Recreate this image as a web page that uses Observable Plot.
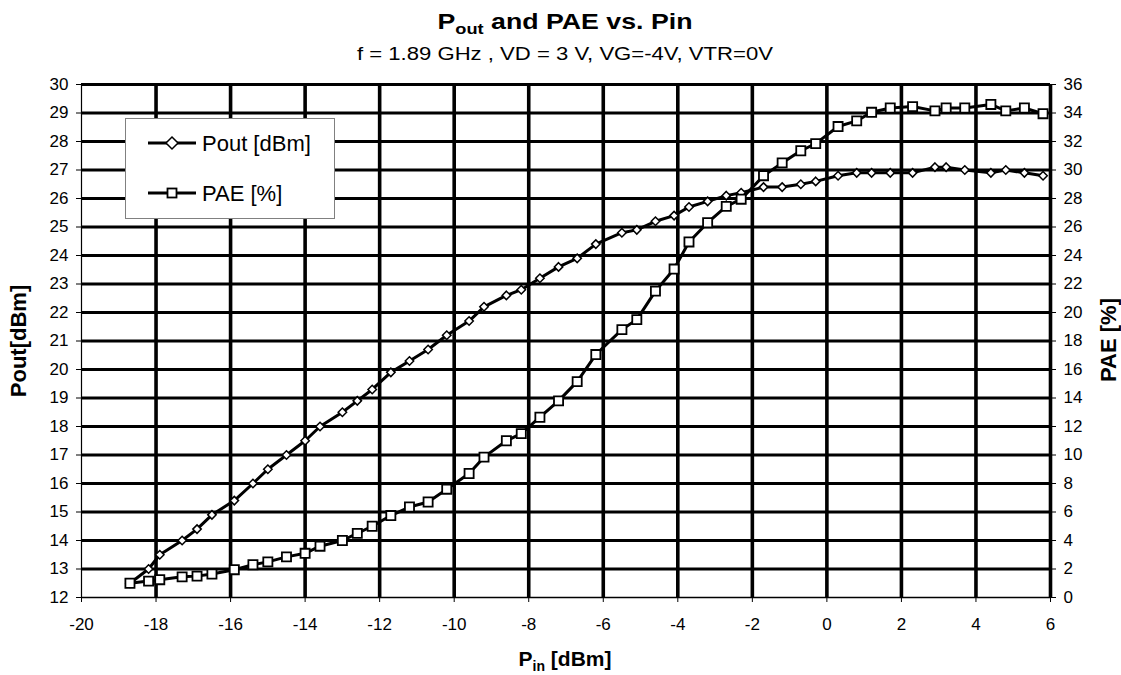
<!DOCTYPE html>
<html><head><meta charset="utf-8">
<script src="https://cdn.jsdelivr.net/npm/d3@7"></script>
<script src="https://cdn.jsdelivr.net/npm/@observablehq/plot@0.6"></script>
<style>
body{margin:0;background:#fff;font-family:"Liberation Sans",Arial,sans-serif;}
#wrap{position:relative;width:1121px;height:675px;overflow:hidden;background:#fff;}
#chart{position:absolute;left:0;top:70px;}
#overlay{position:absolute;left:0;top:0;pointer-events:none;}
</style></head><body>
<div id="wrap">
<div id="chart"></div>
<svg id="overlay" width="1121" height="675" font-family="Liberation Sans, Arial, sans-serif">
  <text x="565" y="29" text-anchor="middle" font-size="22" font-weight="bold" textLength="255" lengthAdjust="spacingAndGlyphs">P<tspan font-size="15" dy="5">out</tspan><tspan dy="-5"> and PAE vs. Pin</tspan></text>
  <text x="565" y="60" text-anchor="middle" font-size="18" textLength="416" lengthAdjust="spacingAndGlyphs">f = 1.89 GHz , VD = 3 V, VG=-4V, VTR=0V</text>
  <text transform="translate(26,341) rotate(-90)" text-anchor="middle" font-size="22" font-weight="bold">Pout[dBm]</text>
  <text transform="translate(1116,340) rotate(-90)" text-anchor="middle" font-size="22" font-weight="bold">PAE [%]</text>
  <text x="565" y="666" text-anchor="middle" font-size="21" font-weight="bold">P<tspan font-size="14" dy="5">in</tspan><tspan dy="-5"> [dBm]</tspan></text>
  <g id="legend">
    <rect x="125.5" y="118.5" width="209" height="100" fill="#fff" stroke="#808080" stroke-width="1"/>
    <line x1="148" x2="196" y1="143" y2="143" stroke="#000" stroke-width="3"/>
    <path d="M172,137L178,143L172,149L166,143Z" fill="#fff" stroke="#000" stroke-width="1.5"/>
    <text x="202" y="151" font-size="22">Pout [dBm]</text>
    <line x1="148" x2="196" y1="193" y2="193" stroke="#000" stroke-width="3"/>
    <rect x="167.5" y="188.5" width="9" height="9" fill="#fff" stroke="#000" stroke-width="1.8"/>
    <text x="202" y="201" font-size="22">PAE [%]</text>
  </g>
</svg>
</div>
<script>
const pin = [-18.7,-18.2,-17.9,-17.3,-16.9,-16.5,-15.9,-15.4,-15.0,-14.5,-14.0,-13.6,-13.0,-12.6,-12.2,-11.7,-11.2,-10.7,-10.2,-9.6,-9.2,-8.6,-8.2,-7.7,-7.2,-6.7,-6.2,-5.5,-5.1,-4.6,-4.1,-3.7,-3.2,-2.7,-2.3,-1.7,-1.2,-0.7,-0.3,0.3,0.8,1.2,1.7,2.3,2.9,3.2,3.7,4.4,4.8,5.3,5.8];
const pout = [12.5,13.0,13.5,14.0,14.4,14.9,15.4,16.0,16.5,17.0,17.5,18.0,18.5,18.9,19.3,19.9,20.3,20.7,21.2,21.7,22.2,22.6,22.8,23.2,23.6,23.9,24.4,24.8,24.9,25.2,25.4,25.7,25.9,26.1,26.2,26.4,26.4,26.5,26.6,26.8,26.9,26.9,26.9,26.9,27.1,27.1,27.0,26.9,27.0,26.9,26.8];
const pae = [1.0,1.15,1.25,1.45,1.5,1.65,1.95,2.3,2.5,2.85,3.1,3.6,4.0,4.5,5.0,5.75,6.35,6.7,7.6,8.7,9.85,11.0,11.5,12.65,13.8,15.15,17.05,18.8,19.5,21.5,23.05,24.95,26.3,27.45,27.95,29.6,30.5,31.35,31.85,33.05,33.45,34.05,34.35,34.45,34.15,34.35,34.35,34.6,34.15,34.35,33.95];
const xTicks = [-20,-18,-16,-14,-12,-10,-8,-6,-4,-2,0,2,4,6];
const leftTicks = [12,13,14,15,16,17,18,19,20,21,22,23,24,25,26,27,28,29,30];
const rightTicks = [0,2,4,6,8,10,12,14,16,18,20,22,24,26,28,30,32,34,36];

// PAE (0..36) shares the plot with Pout (12..30): map onto the left scale
const toLeft = v => 12 + v / 2;
const data = pin.map((p, i) => ({pin: p, pout: pout[i], pae: pae[i], paeY: toLeft(pae[i])}));

const chart = Plot.plot({
  width: 1121,
  height: 605,
  marginTop: 14,
  marginBottom: 78,
  marginLeft: 81,
  marginRight: 71,
  style: {fontFamily: "Liberation Sans, Arial, sans-serif", fontSize: "17px", color: "#000", background: "#fff"},
  x: {domain: [-20, 6]},
  y: {domain: [12, 30]},
  marks: [
    Plot.ruleY(leftTicks.filter(d => d > 12), {stroke: "#000", strokeWidth: 3}),
    Plot.ruleX(xTicks.filter(d => d > -20), {stroke: "#000", strokeWidth: 3.6}),
    Plot.ruleX([-20], {stroke: "#000", strokeWidth: 1.2}),
    Plot.ruleY([12], {stroke: "#000", strokeWidth: 1.5}),
    Plot.axisX({ticks: xTicks, tickSize: 5, tickPadding: 15, tickFormat: d => String(d), label: null}),
    Plot.axisY({anchor: "left", ticks: leftTicks, tickSize: 5, tickPadding: 8, tickFormat: d => String(d), label: null}),
    Plot.axisY({anchor: "right", ticks: rightTicks.map(toLeft), tickSize: 5, tickPadding: 8, tickFormat: d => String(Math.round((d - 12) * 2)), label: null}),
    Plot.line(data, {x: "pin", y: "pout", stroke: "#000", strokeWidth: 3}),
    Plot.dot(data, {x: "pin", y: "pout", symbol: "diamond2", r: 3.8, fill: "#fff", stroke: "#000", strokeWidth: 1.5}),
    Plot.line(data, {x: "pin", y: "paeY", stroke: "#000", strokeWidth: 3}),
    Plot.dot(data, {x: "pin", y: "paeY", symbol: "square2", r: 5.8, fill: "#fff", stroke: "#000", strokeWidth: 1.8})
  ]
});
document.getElementById("chart").appendChild(chart);
</script>
</body></html>
